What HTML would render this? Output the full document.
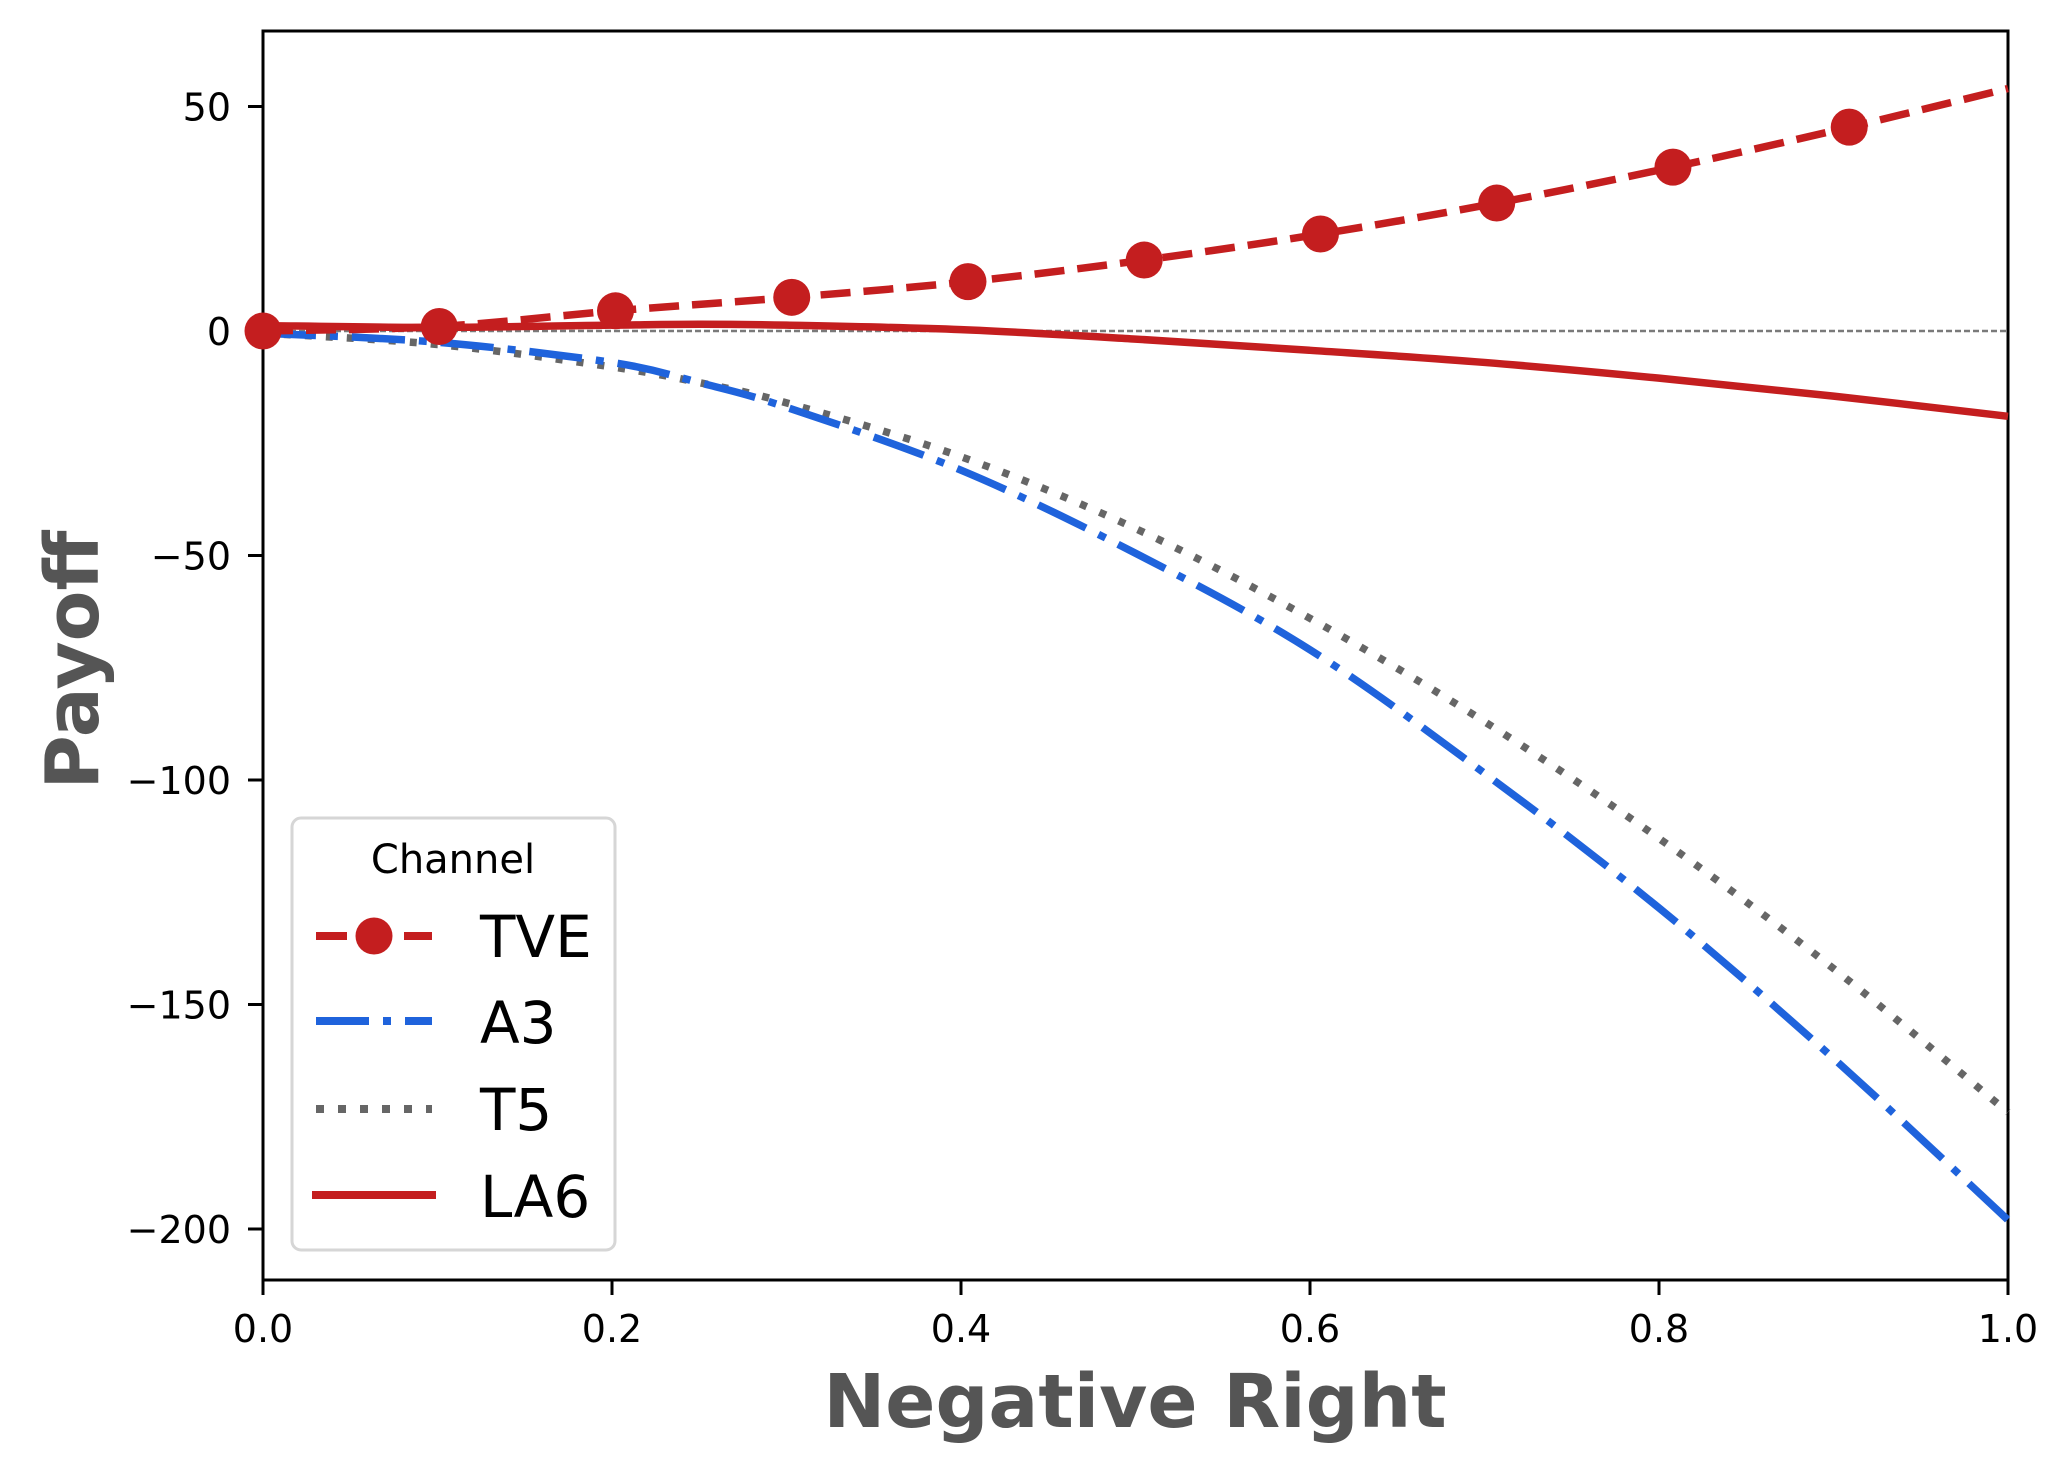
<!DOCTYPE html>
<html><head><meta charset="utf-8"><style>
html,body{margin:0;padding:0;background:#fff;}
svg{display:block;font-family:"DejaVu Sans","Liberation Sans",sans-serif;}
</style></head><body>
<svg id="chart" width="2071" height="1471" viewBox="0 0 2071 1471">
<g id="axes"></g>
<g id="series"></g>
<g id="legend">
 <rect x="292" y="818" width="323" height="432" rx="9" fill="#fff" stroke="#d6d6d6" stroke-width="3"/>
 <text x="453" y="873" font-size="40" text-anchor="middle">Channel</text>
 <g>
  <line x1="316" y1="936" x2="432" y2="936" stroke="#c41e1f" stroke-width="8" stroke-dasharray="31 13"/>
  <circle cx="374" cy="936" r="18.5" fill="#c41e1f"/>
  <text x="480" y="957" font-size="58">TVE</text>
 </g>
 <g>
  <line x1="316" y1="1021" x2="432" y2="1021" stroke="#1f63dc" stroke-width="8" stroke-dasharray="53 14 8 14"/>
  <text x="480" y="1043" font-size="58">A3</text>
 </g>
 <g>
  <line x1="316" y1="1109" x2="432" y2="1109" stroke="#666" stroke-width="8" stroke-dasharray="8 14"/>
  <text x="480" y="1130" font-size="58">T5</text>
 </g>
 <g>
  <line x1="312" y1="1195" x2="436" y2="1195" stroke="#c41e1f" stroke-width="8"/>
  <text x="480" y="1217" font-size="58">LA6</text>
 </g>
</g>
</svg>
<script>
const xValues = [0, 0.101, 0.202, 0.303, 0.404, 0.505, 0.606, 0.707, 0.808, 0.909, 1.0];
const tveValues = [0, 1, 4.5, 7.5, 11, 15.8, 21.6, 28.5, 36.5, 45.4, 54];
const curveX = [0, 0.1, 0.2, 0.25, 0.3, 0.4, 0.5, 0.6, 0.7, 0.8, 0.9, 1.0];
const la6Values = [1.2, 0.8, 1.3, 1.5, 1.3, 0.3, -1.8, -4.3, -7, -10.5, -14.5, -19];
const a3Values = [-0.5, -2.5, -7, -11.5, -17, -31, -49.5, -71, -98.5, -128.5, -162, -198];
const t5Values = [-0.5, -3, -8, -11.5, -16, -28, -44, -64, -87, -113, -142, -174];
const xTicks = [0, 0.2, 0.4, 0.6, 0.8, 1.0];
const xTickLabels = ["0.0", "0.2", "0.4", "0.6", "0.8", "1.0"];
const yTicks = [50, 0, -50, -100, -150, -200];
const yTickLabels = ["50", "0", "\u221250", "\u2212100", "\u2212150", "\u2212200"];

const L = 263, R = 2008, T = 31, B = 1280;
const X = v => L + v * (R - L);
const Y = v => 331 - v * 4.49;
const NS = "http://www.w3.org/2000/svg";
function mk(tag, attrs, parent) {
  const e = document.createElementNS(NS, tag);
  for (const k in attrs) e.setAttribute(k, attrs[k]);
  parent.appendChild(e);
  return e;
}
function smoothPath(xs, ys) {
  const p = xs.map((x, i) => [X(x), Y(ys[i])]);
  let d = "M" + p[0][0] + "," + p[0][1];
  for (let i = 0; i < p.length - 1; i++) {
    const p0 = p[i - 1] || p[i], p1 = p[i], p2 = p[i + 1], p3 = p[i + 2] || p2;
    const c1 = [p1[0] + (p2[0] - p0[0]) / 6, p1[1] + (p2[1] - p0[1]) / 6];
    const c2 = [p2[0] - (p3[0] - p1[0]) / 6, p2[1] - (p3[1] - p1[1]) / 6];
    d += " C" + c1 + " " + c2 + " " + p2;
  }
  return d;
}
const axes = document.getElementById("axes");
const series = document.getElementById("series");

const zl = mk("line", {x1: L, x2: R, y1: Y(0), y2: Y(0), stroke: "#7a7a7a", "stroke-width": 2.5, "stroke-dasharray": "6 3"}, series);



const t5 = mk("path", {d: smoothPath(curveX, t5Values), fill: "none", stroke: "#666", "stroke-width": 7.5, "stroke-dasharray": "7 14"}, series);


const a3 = mk("path", {d: smoothPath(curveX, a3Values), fill: "none", stroke: "#1f63dc", "stroke-width": 7.5, "stroke-dasharray": "53 14 8 14"}, series);


const la6 = mk("path", {d: smoothPath(curveX, la6Values), fill: "none", stroke: "#c41e1f", "stroke-width": 7.5}, series);


const tve = mk("path", {d: smoothPath(xValues, tveValues), fill: "none", stroke: "#c41e1f", "stroke-width": 7.5, "stroke-dasharray": "30 13"}, series);


for (let i = 0; i < xValues.length - 1; i++) {
  const c = mk("circle", {cx: X(xValues[i]), cy: Y(tveValues[i]), r: 18.5, fill: "#c41e1f"}, series);
  
  
}

const fr = mk("rect", {x: L, y: T, width: R - L, height: B - T, fill: "none", stroke: "#000", "stroke-width": 3}, axes);


xTicks.forEach((v, i) => {
  const t = mk("line", {x1: X(v), x2: X(v), y1: B, y2: B + 15, stroke: "#000", "stroke-width": 3}, axes);
  
  
  const lb = mk("text", {x: X(v), y: 1342, "font-size": 38, "text-anchor": "middle"}, axes);
  lb.textContent = xTickLabels[i];
  
  
});
yTicks.forEach((v, i) => {
  const t = mk("line", {x1: L - 15, x2: L, y1: Y(v), y2: Y(v), stroke: "#000", "stroke-width": 3}, axes);
  
  
  const lb = mk("text", {x: 231, y: Y(v) + 14, "font-size": 38, "text-anchor": "end"}, axes);
  lb.textContent = yTickLabels[i];
  
  
});
const xt = mk("text", {x: 1135, y: 1427, "font-size": 74, "font-weight": "bold", fill: "#555", "text-anchor": "middle"}, axes);
xt.textContent = "Negative Right";


const yt = mk("text", {x: 0, y: 0, "font-size": 74, "font-weight": "bold", fill: "#555", "text-anchor": "middle", transform: "translate(98,660) rotate(-90)"}, axes);
yt.textContent = "Payoff";


</script>
</body></html>
